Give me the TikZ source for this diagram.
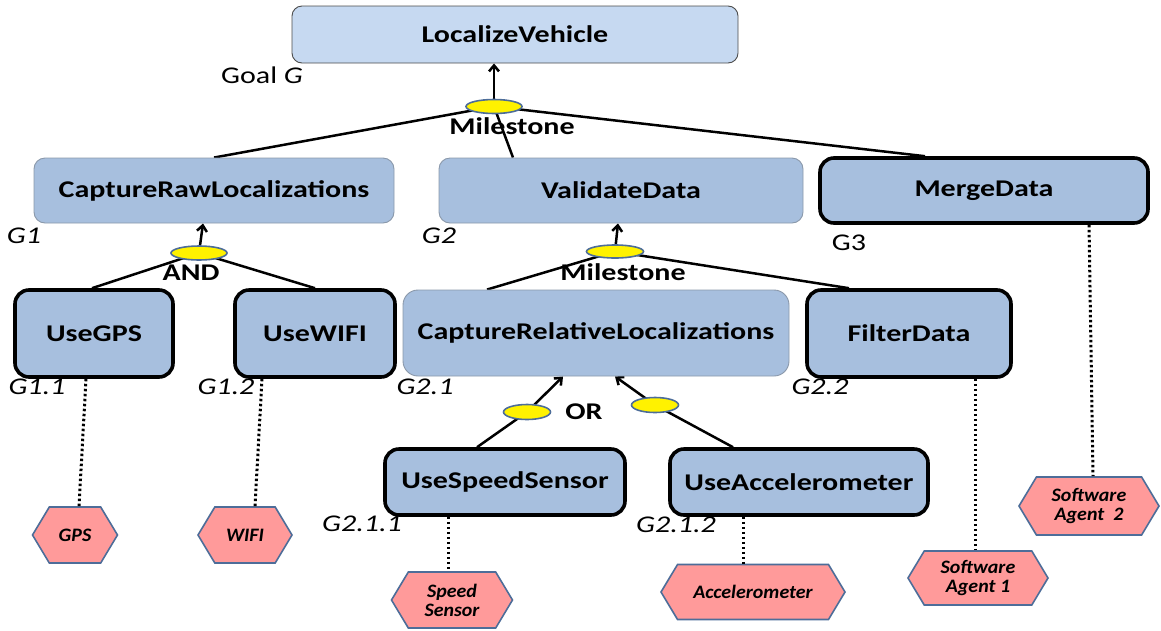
\documentclass[tikz,border=0pt]{standalone}
\usepackage{fontspec}
\setmainfont{Carlito}[FakeStretch=1.25]
\newfontfamily\hexfont{Carlito}[FakeStretch=1.05]
\usetikzlibrary{shapes.geometric,shapes.symbols,arrows.meta,backgrounds}
\definecolor{lightblue}{HTML}{C6D9F1}
\definecolor{boxblue}{HTML}{A7BFDE}
\definecolor{boxedge}{HTML}{8A98AA}
\definecolor{hexred}{HTML}{FF9A9A}
\definecolor{hexedge}{HTML}{4D6D99}
\definecolor{elledge}{HTML}{4D6D99}
\tikzset{
  lightbox/.style={rectangle, rounded corners=10pt, fill=lightblue, draw=black!70, line width=0.9pt, inner sep=0pt, font=\fontsize{24}{28}\selectfont\bfseries},
  midbox/.style={rectangle, rounded corners=11pt, fill=boxblue, draw=boxedge, line width=0.9pt, inner sep=0pt, font=\fontsize{24}{28}\selectfont\bfseries},
  thickbox/.style={rectangle, rounded corners=14pt, fill=boxblue, draw=black, line width=3.6pt, inner sep=0pt, font=\fontsize{24}{28}\selectfont\bfseries},
  ell/.style={ellipse, fill=yellow, draw=elledge, line width=1.6pt, minimum width=56pt, minimum height=14pt, inner sep=0pt},
  opl/.style={inner sep=0pt, font=\fontsize{24}{28}\selectfont\bfseries},
  lbl/.style={inner sep=0pt, font=\fontsize{24}{28}\selectfont},
  glbl/.style={inner sep=0pt, font=\fontsize{24}{28}\selectfont\itshape},
  hexa/.style={signal, signal to=west and east, signal pointer angle=118, fill=hexred, draw=hexedge, line width=1.6pt, inner sep=0pt, minimum height=56pt, align=center, font=\hexfont\fontsize{19}{19}\selectfont\bfseries\itshape},
  conn/.style={line width=2.5pt, draw=black},
  arr/.style={line width=2.5pt, draw=black, -{Straight Barb[length=6pt,width=10pt]}},
  dots/.style={line width=3pt, draw=black, dash pattern=on 2.5pt off 2.5pt},
}
\begin{document}
\begin{tikzpicture}[x=1pt,y=-1pt]
\useasboundingbox (0,0) rectangle (1161,630);
% goals
\node[lightbox, minimum width=446pt, minimum height=57pt] (lv) at (515,34.5) {LocalizeVehicle};
\node[lbl] (goalg) at (262,75) {Goal \textit{G}};
\node[ell] (ms1) at (494,106.5) {};
\node[opl] (ms1l) at (512,126) {Milestone};
\node[midbox, minimum width=360pt, minimum height=65pt] (crl) at (214,190.5) {CaptureRawLocalizations};
\node[midbox, minimum width=364pt, minimum height=65pt] (vd) at (621,190.5) {ValidateData};
\node[thickbox, minimum width=328pt, minimum height=65pt] (md) at (984,190.5) {MergeData};
\node[glbl] (g1) at (24,236) {G1};
\node[glbl] (g2) at (439,236) {G2};
\node[lbl] (g3) at (849,243) {G3};
\node[ell] (and) at (199,253) {};
\node[opl] (andl) at (191,273) {AND};
\node[thickbox, minimum width=158pt, minimum height=87pt] (gps) at (94,333.5) {UseGPS};
\node[thickbox, minimum width=160pt, minimum height=87pt] (wifi) at (315,333.5) {UseWIFI};
\node[midbox, rounded corners=15pt, minimum width=386pt, minimum height=86pt] (crel) at (596,333) {CaptureRelativeLocalizations};
\node[thickbox, minimum width=204pt, minimum height=87pt] (fd) at (909,333.5) {FilterData};
\node[ell, minimum width=57pt, minimum height=13pt] (ms2) at (615,251.5) {};
\node[opl] (ms2l) at (623,272) {Milestone};
\node[glbl] (g11) at (37,387) {G1.1};
\node[glbl] (g12) at (226,387) {G1.2};
\node[glbl] (g21) at (425,387) {G2.1};
\node[glbl] (g22) at (820,387) {G2.2};
\node[ell, minimum width=47pt, minimum height=15pt] (or1) at (527,412) {};
\node[ell, minimum width=47pt, minimum height=15pt] (or2) at (655,405) {};
\node[opl] (orl) at (584,412) {OR};
\node[thickbox, minimum width=240pt, minimum height=66pt] (uss) at (505,482) {UseSpeedSensor};
\node[thickbox, minimum width=258pt, minimum height=66pt] (ua) at (799,482) {UseAccelerometer};
\node[glbl] (g211) at (362,524) {G2.1.1};
\node[glbl] (g212) at (676,525) {G2.1.2};
% agents
\node[hexa, minimum width=85pt] (hgps) at (75,535) {GPS};
\node[hexa, minimum width=94pt] (hwifi) at (245,535) {WIFI};
\node[hexa, minimum width=121pt] (hspeed) at (452,600) {Speed\\Sensor};
\node[hexa, minimum width=184pt, minimum height=55pt] (hacc) at (753,592) {Accelerometer};
\node[hexa, minimum width=140pt, minimum height=54pt] (hsa1) at (978,578) {Software\\Agent 1};
\node[hexa, minimum width=140pt, minimum height=58pt] (hsa2) at (1089,506) {Software\\Agent\ \ 2};
% connectors
\begin{scope}[on background layer]
\draw[arr] (ms1.center) -- (ms1.center |- lv.south);
\draw[conn] (ms1.center) -- (crl.north);
\draw[conn] (ms1.center) -- ([xshift=-108pt]vd.north);
\draw[conn] (ms1.center) -- ([xshift=-59pt]md.north);
\draw[arr] (and.center) -- ([xshift=-11pt]crl.south);
\draw[conn] (and.center) -- ([xshift=-2pt]gps.north);
\draw[conn] (and.center) -- (wifi.north);
\draw[arr] (ms2.center) -- ([xshift=-3pt]vd.south);
\draw[conn] (ms2.center) -- ([xshift=-109pt]crel.north);
\draw[conn] (ms2.center) -- ([xshift=-60pt]fd.north);
\draw[conn] ([xshift=-28pt]uss.north) -- (or1.center);
\draw[arr] (or1.center) -- ([xshift=-33pt]crel.south);
\draw[conn] ([xshift=-66pt]ua.north) -- (or2.center);
\draw[arr] (or2.center) -- ([xshift=19pt]crel.south);
\end{scope}
\draw[dots] ([xshift=-8pt]gps.south) -- ([xshift=4pt]hgps.north);
\draw[dots] ([xshift=-53pt]wifi.south) -- ([xshift=10pt]hwifi.north);
\draw[dots] ([xshift=-57pt]uss.south) -- ([xshift=-4pt]hspeed.north);
\draw[dots] ([xshift=-56pt]ua.south) -- ([xshift=-10pt]hacc.north);
\draw[dots] ([xshift=66pt]fd.south) -- ([xshift=-3pt]hsa1.north);
\draw[dots] ([xshift=105pt]md.south) -- ([xshift=4pt]hsa2.north);
\end{tikzpicture}
\end{document}
